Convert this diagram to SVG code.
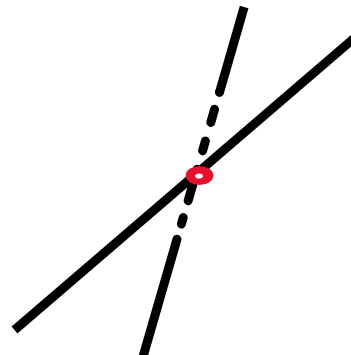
<svg xmlns="http://www.w3.org/2000/svg" width="351" height="355" viewBox="0 0 351 355">
  <style>
    .ln { stroke: #000; stroke-width: 9; fill: none; }
    .butt { stroke-linecap: butt; }
    .rnd { stroke-linecap: round; }
  </style>
  <rect width="351" height="355" fill="#fff"/>
  <g id="connectors">
    <line id="line-a" class="ln butt" x1="14.5" y1="330" x2="360" y2="33.2"/>
    <g id="line-b">
      <line class="ln butt" x1="244.16" y1="7" x2="219.46" y2="92.4"/>
      <circle cx="219.46" cy="92.4" r="4.5" fill="#000"/>
      <line class="ln rnd" x1="214.57" y1="109.3" x2="210.78" y2="122.4"/>
      <line class="ln rnd" x1="205.40" y1="141" x2="202.60" y2="150.7"/>
      <line class="ln rnd" x1="197.22" y1="169.3" x2="188.14" y2="200.7"/>
      <line class="ln rnd" x1="183.25" y1="217.6" x2="181.40" y2="224"/>
      <line class="ln rnd" x1="176.97" y1="239.3" x2="142.07" y2="360"/>
    </g>
  </g>
  <g id="intersection">
    <ellipse cx="199.5" cy="175.5" rx="13.8" ry="9.5" fill="#e4112c"/>
    <ellipse cx="199" cy="176" rx="3.8" ry="2.6" fill="#fff"/>
  </g>
</svg>
